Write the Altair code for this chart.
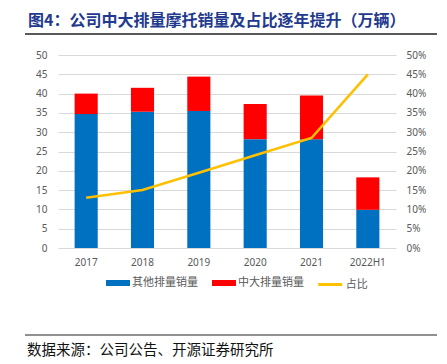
import altair as alt
import pandas as pd

years = ["2017", "2018", "2019", "2020", "2021", "2022H1"]
other_sales = [34.7, 35.3, 35.5, 28.2, 28.2, 9.9]
big_sales = [5.3, 6.2, 8.9, 9.1, 11.3, 8.4]
share = [0.13, 0.15, 0.195, 0.24, 0.285, 0.45]
bar_series = ["其他排量销量", "中大排量销量"]
bar_colors = ["#0070C0", "#FF0000"]
line_series = ["占比"]
line_colors = ["#FFC000"]
title_text = "图4：公司中大排量摩托销量及占比逐年提升（万辆）"
source_text = "数据来源：公司公告、开源证券研究所"
left_ticks = [0, 5, 10, 15, 20, 25, 30, 35, 40, 45, 50]
right_ticks = [0, 0.05, 0.10, 0.15, 0.20, 0.25, 0.30, 0.35, 0.40, 0.45, 0.50]

rows = []
for i, y in enumerate(years):
    rows.append({"year": y, "series": bar_series[0], "value": other_sales[i], "ord": 0})
    rows.append({"year": y, "series": bar_series[1], "value": big_sales[i], "ord": 1})
bars_df = pd.DataFrame(rows)
line_df = pd.DataFrame({"year": years, "share": share, "series": line_series[0]})

FONT = "Noto Sans CJK SC"
RECT = "M-1,-0.25L1,-0.25L1,0.25L-1,0.25Z"

x_enc = alt.X("year:N", sort=years, title=None,
              scale=alt.Scale(paddingInner=0.59, paddingOuter=0.295),
              axis=alt.Axis(labelAngle=0, ticks=False, domain=False, labelPadding=9,
                            labelColor="#595959", labelFontSize=10, labelFont="Noto Sans",
                            grid=False))

bars = alt.Chart(bars_df).mark_bar().encode(
    x=x_enc,
    y=alt.Y("value:Q", stack="zero", title=None,
            scale=alt.Scale(domain=[0, 50], nice=False),
            axis=alt.Axis(values=left_ticks, ticks=False, domain=False, labelPadding=11,
                          labelColor="#595959", labelFontSize=10, labelFont="Noto Sans",
                          gridColor="#D9D9D9", gridWidth=1)),
    color=alt.Color("series:N", scale=alt.Scale(domain=bar_series, range=bar_colors),
                    legend=alt.Legend(orient="none", legendX=48, legendY=216,
                                      direction="horizontal", title=None, labelFont=FONT,
                                      labelFontSize=11, labelColor="#595959", labelOffset=2,
                                      columnPadding=14, symbolType=RECT, symbolSize=576,
                                      symbolStrokeWidth=0)),
    order=alt.Order("ord:Q"),
)

line = alt.Chart(line_df).mark_line(strokeWidth=2.6).encode(
    x=x_enc,
    y=alt.Y("share:Q", title=None,
            scale=alt.Scale(domain=[0, 0.5], nice=False),
            axis=alt.Axis(orient="right", values=right_ticks, format=".0%", ticks=False,
                          domain=False, labelPadding=10, grid=False,
                          labelColor="#595959", labelFontSize=10, labelFont="Noto Sans")),
    stroke=alt.Stroke("series:N", scale=alt.Scale(domain=line_series, range=line_colors),
                      legend=alt.Legend(orient="none", legendX=258.7, legendY=216,
                                        direction="horizontal", title=None, labelFont=FONT,
                                        labelFontSize=11, labelColor="#595959", labelOffset=2,
                                        symbolType="stroke", symbolSize=576,
                                        symbolStrokeWidth=3)),
)

one = pd.DataFrame({"t": [title_text]})
src = pd.DataFrame({"t": [source_text]})

title_mark = alt.Chart(one).mark_text(
    align="left", baseline="middle", fontSize=16, fontWeight="bold",
    color="#1F3A8F", font=FONT
).encode(text="t:N", x=alt.value(-30), y=alt.value(-34))

title_rule = alt.Chart(one).mark_rule(color="#222222", strokeWidth=1.5).encode(
    x=alt.value(-33), x2=alt.value(379), y=alt.value(-21))

foot_rule = alt.Chart(src).mark_rule(color="#222222", strokeWidth=1).encode(
    x=alt.value(-33), x2=alt.value(379), y=alt.value(280))

foot_mark = alt.Chart(src).mark_text(
    align="left", baseline="middle", fontSize=14.5, color="#111111", font=FONT
).encode(text="t:N", x=alt.value(-31), y=alt.value(296))

chart = alt.layer(bars, line, title_mark, title_rule, foot_rule, foot_mark).resolve_scale(
    y="independent"
).properties(
    width=338, height=193,
    autosize=alt.AutoSizeParams(type="none"),
    padding={"left": 50, "top": 47, "right": 43, "bottom": 116},
).configure_view(stroke=None)

chart.save("out.html", embed_options={"renderer": "svg", "actions": False})
